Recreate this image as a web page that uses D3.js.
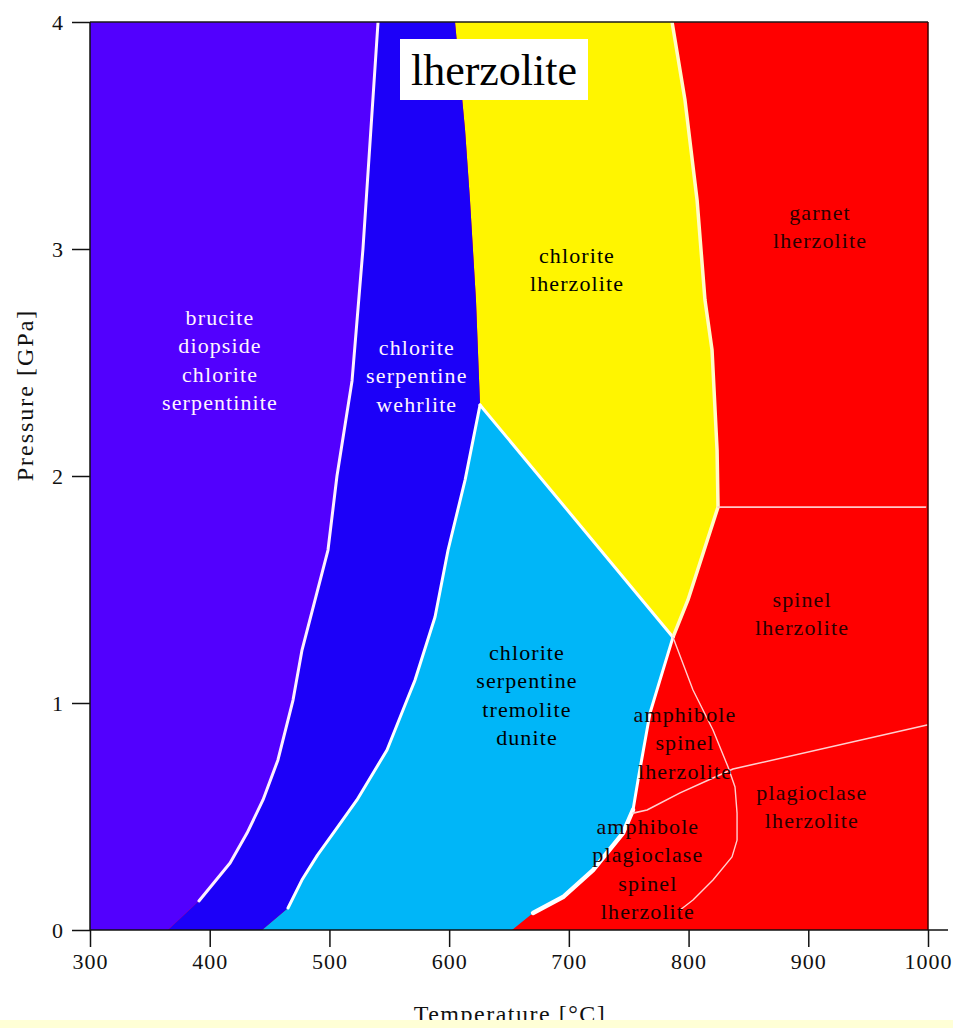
<!DOCTYPE html>
<html>
<head>
<meta charset="utf-8">
<script src="https://cdn.jsdelivr.net/npm/d3@7"></script>
<style>
  html, body { margin: 0; padding: 0; background: #ffffff; }
  svg { display: block; }
  text { font-family: "Liberation Serif", "Times New Roman", serif; }
</style>
</head>
<body>
<svg id="chart" width="953" height="1028"></svg>
<script>
// ---------------- DATA (temperature °C, pressure GPa) ----------------
const xTicks = [300, 400, 500, 600, 700, 800, 900, 1000];
const yTicks = [0, 1, 2, 3, 4];

// purple | blue boundary (top -> bottom); white line ends before the axis
const bound1 = [[540.6,4.0],[528,3.0],[518.9,2.42],[506.3,2.0],[498.8,1.674],[477.1,1.233],
                [469.6,1.013],[457,0.749],[444.5,0.573],[431.2,0.427],[417,0.295],[391,0.128]];
const bound1Tail = [[365,0]];

// blue | yellow boundary (top -> corner), no white line
const bound2 = [[604.9,4.0],[613.3,3.524],[617.4,3.216],[622.4,2.775],[625,2.423],[625.8,2.313]];

// blue | light-blue boundary (corner -> bottom)
const bound3 = [[625.8,2.313],[613.3,1.982],[599.1,1.674],[588.2,1.379],[571.5,1.101],[564.8,1.013],
                [548.1,0.793],[523,0.573],[505,0.44],[490,0.33],[477,0.22],[465.4,0.097]];
const bound3Tail = [[443.7,0]];

// yellow | light-blue boundary (corner -> triple junction)
const bound4 = [[625.8,2.313],[787,1.29]];

// yellow | red boundary (top -> triple junction)
const bound5 = [[786.2,4.0],[797,3.656],[807.1,3.216],[813.7,2.775],[819.6,2.555],[823.8,2.115],
                [824.6,1.863],[799.5,1.454],[787,1.29]];

// light-blue | red boundary (triple junction -> bottom)
const bound6 = [[787,1.29],[776.1,1.101],[767.8,0.956],[757.8,0.661],[753.6,0.529],[745.2,0.427],
                [720.2,0.264],[695.1,0.145],[670.1,0.075]];
const bound6Tail = [[652.5,0]];

// thin reaction lines in the lherzolite field
const garnetSpinel = [[824.6,1.863],[998,1.863]];
const amphiboleOut = [[787,1.29],[803.7,1.057],[820.4,0.881],[833,0.718],[838.8,0.63],[840.5,0.515],
                      [840.5,0.396],[836.3,0.322],[820.4,0.22],[803.7,0.132],[792.9,0.088]];
const plagioclaseIn = [[999.2,0.903],[837.1,0.709],[820.4,0.67],[792.9,0.604],[765.3,0.529],[753.6,0.515]];

// field labels
const labelText = [
  ["brucite","diopside","chlorite","serpentinite"],
  ["chlorite","serpentine","wehrlite"],
  ["chlorite","lherzolite"],
  ["garnet","lherzolite"],
  ["spinel","lherzolite"],
  ["chlorite","serpentine","tremolite","dunite"],
  ["amphibole","spinel","lherzolite"],
  ["plagioclase","lherzolite"],
  ["amphibole","plagioclase","spinel","lherzolite"]
];
const labelT = [408.6, 573, 706.8, 909.8, 894.8, 665, 797, 903, 766];
const labelP = [2.665, 2.533, 2.938, 3.128, 1.423, 1.189, 0.916, 0.573, 0.423];
const labelColor = ["#fff4ff","#fff4ff","#000000","#2a0000","#2a0000","#000000","#1a0000","#2a0000","#1a0000"];

const title = "lherzolite";
const xTitle = "Temperature [°C]";
const yTitle = "Pressure [GPa]";

// ---------------- DRAWING ----------------
const svg = d3.select("#chart");
const x = d3.scaleLinear().domain([300, 1000]).range([90, 928]);
const y = d3.scaleLinear().domain([0, 4]).range([930, 22]);
const line = d3.line().x(d => x(d[0])).y(d => y(d[1]));
const poly = pts => line(pts) + "Z";
const rev = a => a.slice().reverse();

const col = { purple: "#5200fe", blue: "#1c00f8", light: "#00b6f8", yellow: "#fff500", red: "#ff0000" };

// red background for whole field
svg.append("path").attr("d", poly([[300,0],[300,4],[1000,4],[1000,0]])).attr("fill", col.red);

// yellow field
svg.append("path").attr("d", poly([...bound5, ...rev(bound4), ...rev(bound2)])).attr("fill", col.yellow);

// light blue field
svg.append("path").attr("d", poly([...bound4, ...bound6, ...bound6Tail, ...bound3Tail, ...rev(bound3)]))
  .attr("fill", col.light);

// blue field
svg.append("path").attr("d", poly([...bound2, ...bound3, ...bound3Tail, ...bound1Tail, ...rev(bound1)]))
  .attr("fill", col.blue);

// purple field
svg.append("path").attr("d", poly([[300,0],[300,4], ...bound1, ...bound1Tail])).attr("fill", col.purple);

// white boundary lines
const wl = (pts, w, c) => svg.append("path").attr("d", line(pts)).attr("fill", "none")
  .attr("stroke", c).attr("stroke-width", w).attr("stroke-linejoin", "round").attr("stroke-linecap", "round");
wl(bound1, 3, "#fff0ff");
wl(bound3, 3, "#ffffff");
wl(bound4, 3, "#ffffff");
wl(bound5, 3.5, "#fffcc8");
wl(bound6.slice(0,5), 3, "#ffffff");
wl(bound6.slice(4), 4.5, "#ffffff");
wl(garnetSpinel, 1.6, "#ffc8c8");
wl(amphiboleOut, 1.4, "#ffd0d0");
wl(plagioclaseIn, 1.6, "#ffd0d0");

// frame
svg.append("line").attr("x1", x(300)).attr("x2", x(1000)).attr("y1", y(4)).attr("y2", y(4))
  .attr("stroke", "#1a1a1a").attr("stroke-width", 1.5);
svg.append("line").attr("x1", x(1000)).attr("x2", x(1000)).attr("y1", y(4)).attr("y2", y(0))
  .attr("stroke", "#3a0000").attr("stroke-width", 1.5);

// axes
const xAxis = d3.axisBottom(x).tickValues(xTicks).tickSize(17).tickPadding(6).tickFormat(d3.format("d"));
const yAxis = d3.axisLeft(y).tickValues(yTicks).tickSize(18).tickPadding(6).tickFormat(d3.format("d"));
const gx = svg.append("g").attr("transform", `translate(0,${y(0)})`).call(xAxis);
const gy = svg.append("g").attr("transform", `translate(${x(300)},0)`).call(yAxis);
[gx, gy].forEach(g => {
  g.select(".domain").remove();
  g.selectAll(".tick line").attr("stroke", "#111").attr("stroke-width", 1.5);
  g.selectAll(".tick text").attr("fill", "#111").style("font-size", "22px")
    .style("font-family", '"Liberation Serif", serif').style("letter-spacing", "1px");
});
gy.selectAll(".tick text").attr("dx", "-2");
svg.append("line").attr("x1", x(300)).attr("x2", 948).attr("y1", y(0)).attr("y2", y(0))
  .attr("stroke", "#111").attr("stroke-width", 1.5);
svg.append("line").attr("x1", x(300)).attr("x2", x(300)).attr("y1", y(4)).attr("y2", y(0))
  .attr("stroke", "#111").attr("stroke-width", 1.5);

// field labels
labelText.forEach((lines, i) => {
  const t = svg.append("text").attr("text-anchor", "middle").attr("fill", labelColor[i])
    .style("font-size", "22px").style("letter-spacing", "1.1px");
  lines.forEach((s, j) => {
    t.append("tspan").attr("x", x(labelT[i])).attr("y", y(labelP[i]) + j * 28.3).text(s);
  });
});

// title box
svg.append("rect").attr("x", 400).attr("y", 39).attr("width", 188).attr("height", 61).attr("fill", "#ffffff");
svg.append("text").attr("x", 494).attr("y", 85).attr("text-anchor", "middle").attr("fill", "#000")
  .style("font-size", "44px").text(title);

// axis titles
svg.append("text").attr("transform", "translate(33,395) rotate(-90)").attr("text-anchor", "middle")
  .attr("fill", "#111").style("font-size", "24px").style("letter-spacing", "2px").text(yTitle);
svg.append("text").attr("x", 510).attr("y", 1022).attr("text-anchor", "middle")
  .attr("fill", "#111").style("font-size", "24px").style("letter-spacing", "1.5px").text(xTitle);

// pale strip at the bottom edge
svg.append("rect").attr("x", 0).attr("y", 1020).attr("width", 953).attr("height", 8).attr("fill", "#ffffd6");
</script>
</body>
</html>
